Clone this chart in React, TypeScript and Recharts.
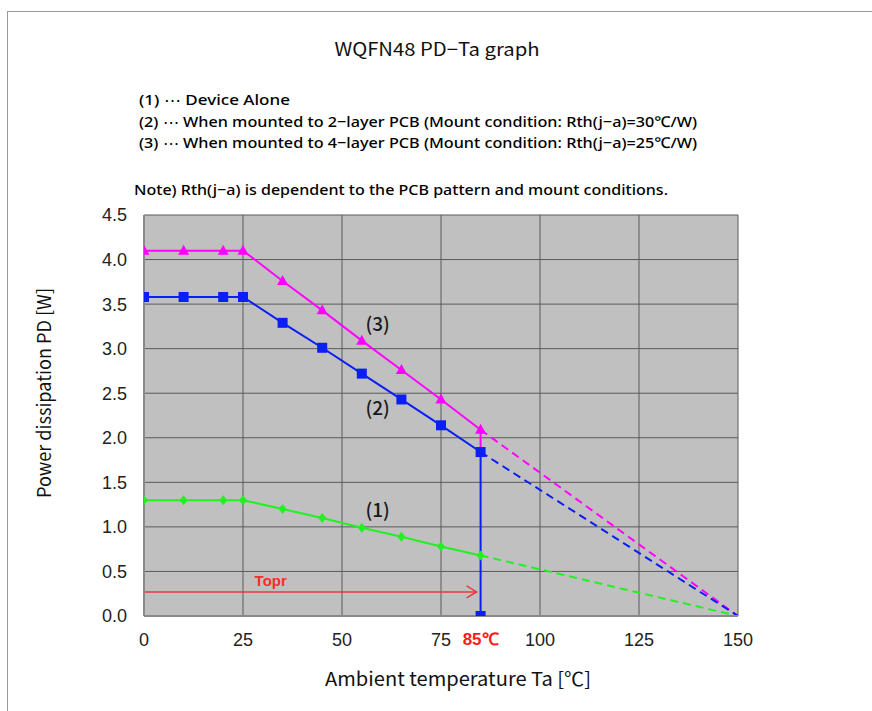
import React from "react";
import {
  ComposedChart,
  Line,
  XAxis,
  YAxis,
  CartesianGrid,
  ReferenceLine,
  ReferenceDot,
} from "recharts";

// ---------- data ----------
const TEMPS = [0, 10, 20, 25, 35, 45, 55, 65, 75, 85];
const PD_ALONE = [1.3, 1.3, 1.3, 1.3, 1.2, 1.1, 0.99, 0.89, 0.78, 0.68];
const PD_2LAYER = [3.58, 3.58, 3.58, 3.58, 3.29, 3.01, 2.72, 2.43, 2.14, 1.84];
const PD_4LAYER = [4.1, 4.1, 4.1, 4.1, 3.76, 3.43, 3.09, 2.76, 2.43, 2.09];
const TJ_MAX = 150;
const TOPR_MAX = 85;
const X_TICKS = [0, 25, 50, 75, 100, 125, 150];
const Y_TICKS = [0, 0.5, 1, 1.5, 2, 2.5, 3, 3.5, 4, 4.5];
const TOPR_LEVEL = 0.27;
const TOPR_ARROW_END = 84;

const TITLE = "WQFN48 PD\u2212Ta graph";
const LEGEND_LINES = [
  "(1) \u22ef Device Alone",
  "(2) \u22ef When mounted to 2\u2212layer PCB (Mount condition: Rth(j\u2212a)=30\u2103/W)",
  "(3) \u22ef When mounted to 4\u2212layer PCB (Mount condition: Rth(j\u2212a)=25\u2103/W)",
];
const NOTE = "Note) Rth(j\u2212a) is dependent to the PCB pattern and mount conditions.";
const X_TITLE = "Ambient temperature  Ta [\u2103]";
const Y_TITLE = "Power dissipation  PD [W]";

// curve label anchors (data coords)
const CURVE_LABELS = [
  { x: 59, y: 3.27, text: "(3)" },
  { x: 59, y: 2.33, text: "(2)" },
  { x: 59, y: 1.19, text: "(1)" },
];

// ---------- derived series ----------
const toPts = (ys: number[]) => TEMPS.map((t, i) => ({ x: t, y: ys[i] }));
const last = (a: number[]) => a[a.length - 1];

const s1 = toPts(PD_ALONE);
const s2 = [...toPts(PD_2LAYER), { x: TOPR_MAX, y: 0 }];
const s3 = toPts(PD_4LAYER);
const s3drop = [
  { x: TOPR_MAX, y: last(PD_4LAYER) },
  { x: TOPR_MAX, y: last(PD_2LAYER) },
];
const d1 = [{ x: TOPR_MAX, y: last(PD_ALONE) }, { x: TJ_MAX, y: 0 }];
const d2 = [{ x: TOPR_MAX, y: last(PD_2LAYER) }, { x: TJ_MAX, y: 0 }];
const d3 = [{ x: TOPR_MAX, y: last(PD_4LAYER) }, { x: TJ_MAX, y: 0 }];

const MAGENTA = "#ff00ff";
const BLUE = "#0a1ef5";
const GREEN = "#22f022";

const Tri = (p: any) => {
  const { cx, cy, index } = p;
  if (cx == null || cy == null) return <g key={index} />;
  return (
    <path
      key={index}
      d={`M${cx},${cy - 6} L${cx + 5.5},${cy + 4} L${cx - 5.5},${cy + 4} Z`}
      fill={MAGENTA}
    />
  );
};
const Sq = (p: any) => {
  const { cx, cy, index } = p;
  if (cx == null || cy == null) return <g key={index} />;
  return <rect key={index} x={cx - 5} y={cy - 5} width={10} height={10} fill={BLUE} />;
};
const Dia = (p: any) => {
  const { cx, cy, index } = p;
  if (cx == null || cy == null) return <g key={index} />;
  return (
    <path
      key={index}
      d={`M${cx},${cy - 5} L${cx + 4},${cy} L${cx},${cy + 5} L${cx - 4},${cy} Z`}
      fill={GREEN}
    />
  );
};

const ToprArrow = (p: any) => {
  const { x1, y1, x2, y2 } = p;
  if (x1 == null) return <g />;
  return (
    <g>
      <line x1={x1} y1={y1} x2={x2} y2={y2} stroke="#e8383d" strokeWidth={1.6} />
      <path
        d={`M${x2 - 10},${y2 - 6} L${x2},${y2} L${x2 - 10},${y2 + 6}`}
        fill="none"
        stroke="#e8383d"
        strokeWidth={1.4}
      />
    </g>
  );
};

const tickFont = { fontFamily: "Liberation Sans, Arial, sans-serif", fontSize: 18, fill: "#222" };

export default function App() {
  return (
    <div
      style={{
        position: "fixed",
        left: 0,
        top: 0,
        width: 872,
        height: 711,
        overflow: "hidden",
        background: "#fff",
      }}
    >
      <div
        style={{
          position: "absolute",
          left: 7,
          top: 11,
          width: 1000,
          height: 1000,
          borderLeft: "1.5px solid #9a9a9a",
          borderTop: "1.5px solid #9a9a9a",
        }}
      />
      <div style={{ position: "absolute", left: 0, top: 0 }}>
        <ComposedChart
          width={872}
          height={711}
          margin={{ top: 215, right: 134, bottom: 35, left: 0 }}
        >
          <CartesianGrid
            stroke="#5a5a5a"
            strokeWidth={1}
            fill="#c0c0c0"
            fillOpacity={1}
          />
          <XAxis
            type="number"
            dataKey="x"
            domain={[0, TJ_MAX]}
            ticks={X_TICKS}
            interval={0}
            height={60}
            tickLine={false}
            tickSize={0}
            tickMargin={17}
            axisLine={{ stroke: "#8a8a8a", strokeWidth: 2 }}
            tick={tickFont}
            allowDataOverflow
          />
          <YAxis
            type="number"
            dataKey="y"
            domain={[0, 4.5]}
            ticks={Y_TICKS}
            interval={0}
            width={144}
            tickLine={false}
            tickSize={0}
            tickMargin={17}
            axisLine={{ stroke: "#8a8a8a", strokeWidth: 2 }}
            tick={tickFont}
            tickFormatter={(v: number) => v.toFixed(1)}
            allowDataOverflow
          />

          <ReferenceLine
            segment={[
              { x: 0, y: TOPR_LEVEL },
              { x: TOPR_ARROW_END, y: TOPR_LEVEL },
            ]}
            stroke="#e8383d"
            shape={ToprArrow}
          />
          <ReferenceDot
            x={32}
            y={0.4}
            r={0}
            stroke="none"
            fill="none"
            label={{
              value: "Topr",
              position: "center",
              fill: "#ff2a2a",
              fontSize: 15,
              fontWeight: "bold",
              fontFamily: "Liberation Sans, Arial, sans-serif",
            }}
          />
          <ReferenceLine
            x={TOPR_MAX}
            stroke="none"
            label={{
              value: "85\u2103",
              position: "bottom",
              offset: 17,
              fill: "#ff1a1a",
              fontSize: 17,
              fontWeight: "bold",
              fontFamily: "Liberation Sans, Arial, sans-serif",
            }}
          />

          <Line data={d1} dataKey="y" stroke={GREEN} strokeWidth={2} strokeDasharray="8 5" dot={false} isAnimationActive={false} />
          <Line data={d3} dataKey="y" stroke={MAGENTA} strokeWidth={2} strokeDasharray="8 5" dot={false} isAnimationActive={false} />
          <Line data={d2} dataKey="y" stroke={BLUE} strokeWidth={2} strokeDasharray="8 5" dot={false} isAnimationActive={false} />
          <Line data={s1} dataKey="y" stroke={GREEN} strokeWidth={2} dot={Dia} isAnimationActive={false} />
          <Line data={s3} dataKey="y" stroke={MAGENTA} strokeWidth={2} dot={Tri} isAnimationActive={false} />
          <Line data={s3drop} dataKey="y" stroke={MAGENTA} strokeWidth={2} dot={false} isAnimationActive={false} />
          <Line data={s2} dataKey="y" stroke={BLUE} strokeWidth={2} dot={Sq} isAnimationActive={false} />

          {CURVE_LABELS.map((c) => (
            <ReferenceDot
              key={c.text}
              x={c.x}
              y={c.y}
              r={0}
              stroke="none"
              fill="none"
              label={{
                value: c.text,
                position: "center",
                fill: "#1a1a1a",
                fontSize: 19,
                fontWeight: 500,
                fontFamily: "Noto Sans CJK JP, sans-serif",
              }}
            />
          ))}
        </ComposedChart>
      </div>
      <svg
        width={872}
        height={711}
        style={{ position: "absolute", left: 0, top: 0, pointerEvents: "none" }}
      >
        <text
          x={437}
          y={56}
          textAnchor="middle"
          fontFamily="Noto Sans CJK JP, sans-serif"
          fontSize={18}
          fill="#111"
          textLength={205}
          lengthAdjust="spacingAndGlyphs"
        >
          {TITLE}
        </text>
        {LEGEND_LINES.map((l, i) => (
          <text
            key={i}
            x={139}
            y={105 + i * 21.5}
            fontFamily="Noto Sans, sans-serif"
            fontSize={15}
            fontWeight={500}
            fill="#000"
            textLength={i === 0 ? 151 : 558}
            lengthAdjust="spacingAndGlyphs"
          >
            {l}
          </text>
        ))}
        <text
          x={134}
          y={195}
          fontFamily="Noto Sans, sans-serif"
          fontSize={15}
          fontWeight={500}
          fill="#000"
          textLength={534}
          lengthAdjust="spacingAndGlyphs"
        >
          {NOTE}
        </text>
        <text
          x={458}
          y={686}
          textAnchor="middle"
          fontFamily="Noto Sans CJK JP, sans-serif"
          fontSize={19}
          fill="#111"
          textLength={266}
          lengthAdjust="spacingAndGlyphs"
        >
          {X_TITLE}
        </text>
        <text
          x={0}
          y={0}
          textAnchor="middle"
          transform="translate(51,393) rotate(-90)"
          fontFamily="Noto Sans CJK JP, sans-serif"
          fontSize={19}
          fill="#111"
          textLength={210}
          lengthAdjust="spacingAndGlyphs"
        >
          {Y_TITLE}
        </text>
      </svg>
    </div>
  );
}
